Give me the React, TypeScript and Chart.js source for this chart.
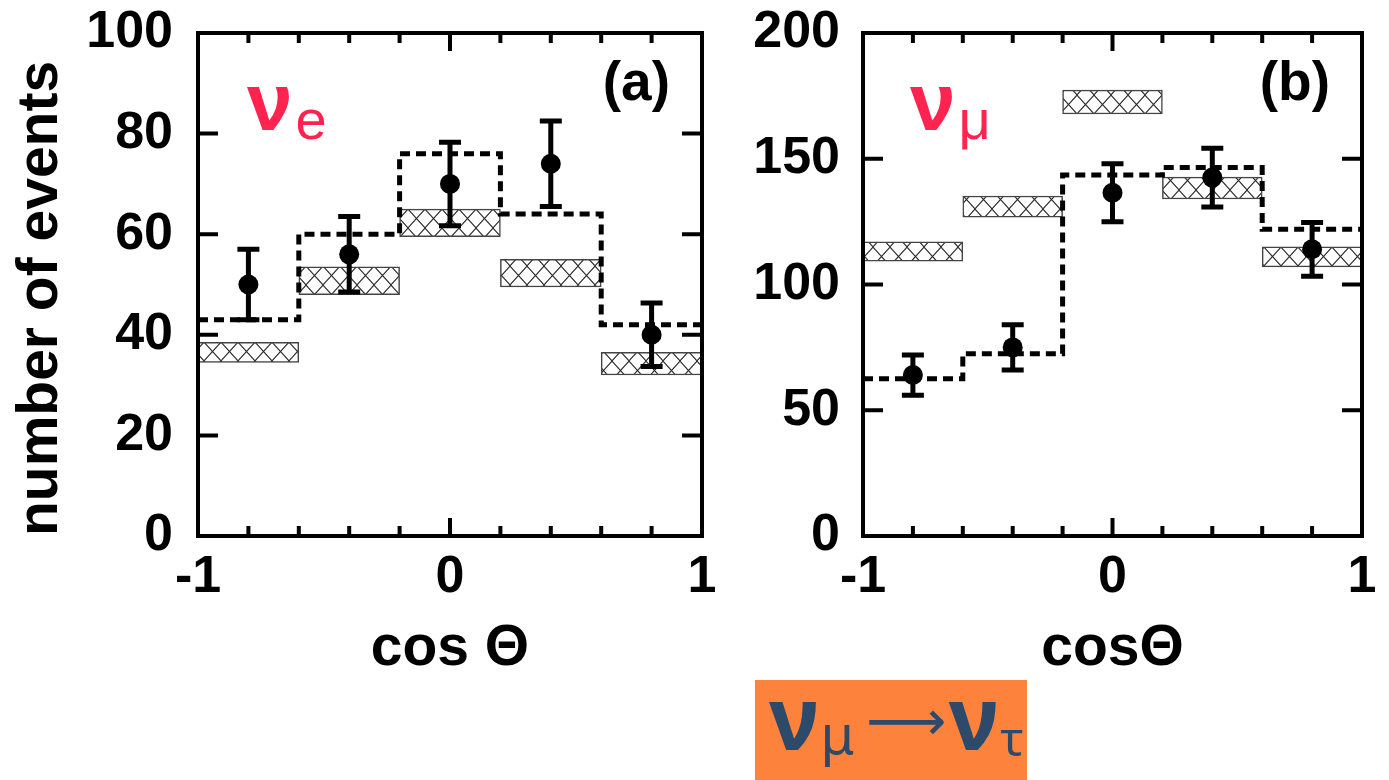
import React, { useEffect, useRef } from "react";
import { Chart, registerables } from "chart.js";

Chart.register(...registerables);

// ---------- data ----------
const binEdges = [-1, -0.6, -0.2, 0.2, 0.6, 1];
const binCenters = [-0.8, -0.4, 0, 0.4, 0.8];

// panel (a)  nu_e
const aObserved = [50, 56, 70, 74, 40];
const aError = [7, 7.5, 8.3, 8.5, 6.3];
const aExpected = [43, 60, 76, 64, 42];
const aBandLow = [34.5, 48, 59.5, 49.5, 32];
const aBandHigh = [38.5, 53.5, 65, 55, 36.5];

// panel (b)  nu_mu
const bObserved = [64, 75, 136.5, 142.5, 114];
const bError = [8, 9, 11.5, 11.7, 10.7];
const bExpected = [62.5, 72.5, 143.5, 146.5, 122];
const bBandLow = [109.3, 126.8, 167.8, 134, 107];
const bBandHigh = [117, 135.2, 177.3, 142.7, 115];

const xMin = -1;
const xMax = 1;
const xLabelStep = 1;
const xMinorStep = 0.2;

const FONT = "'Liberation Sans', Arial, Helvetica, sans-serif";
const RED = "#ff2450";

type Spec = {
  observed: number[];
  error: number[];
  expected: number[];
  low: number[];
  high: number[];
  yMax: number;
  yStep: number;
  yTitle: string | null;
  xTitle: string;
  yAxisWidth: number;
  yTickPad: number;
  padRight: number;
  sym: string;
  sub: string;
  tag: string;
  symDx: number;
};

function makeHatch(): CanvasPattern | string {
  const c = document.createElement("canvas");
  const w = 17;
  const h = 19;
  c.width = w;
  c.height = h;
  const g = c.getContext("2d");
  if (!g) return "#fff";
  g.fillStyle = "#fff";
  g.fillRect(0, 0, w, h);
  g.strokeStyle = "#2a2a2a";
  g.lineWidth = 1.1;
  g.beginPath();
  g.moveTo(-1, -1);
  g.lineTo(w + 1, h + 1);
  g.moveTo(w + 1, -1);
  g.lineTo(-1, h + 1);
  g.stroke();
  return g.createPattern(c, "repeat") || "#fff";
}

function zeroPadding(sc: any) {
  sc.paddingLeft = 0;
  sc.paddingRight = 0;
  sc.paddingTop = 0;
  sc.paddingBottom = 0;
}

function buildChart(canvas: HTMLCanvasElement, s: Spec) {
  const hatch = makeHatch();

  const decor = {
    id: "decor",
    afterDatasetsDraw(chart: any) {
      const { ctx } = chart;
      const xs = chart.scales.x;
      const ys = chart.scales.y;
      ctx.save();
      ctx.strokeStyle = "#000";
      ctx.lineWidth = 5;
      ctx.lineCap = "butt";
      binCenters.forEach((c, i) => {
        const x = xs.getPixelForValue(c);
        const yt = ys.getPixelForValue(s.observed[i] + s.error[i]);
        const yb = ys.getPixelForValue(s.observed[i] - s.error[i]);
        ctx.beginPath();
        ctx.moveTo(x, yt);
        ctx.lineTo(x, yb);
        ctx.moveTo(x - 11, yt);
        ctx.lineTo(x + 11, yt);
        ctx.moveTo(x - 11, yb);
        ctx.lineTo(x + 11, yb);
        ctx.stroke();
      });
      ctx.restore();
    },
    afterDraw(chart: any) {
      const { ctx, chartArea: a } = chart;
      const xs = chart.scales.x;
      const ys = chart.scales.y;
      ctx.save();
      ctx.strokeStyle = "#000";
      ctx.lineWidth = 4;
      // inner ticks x
      for (let v = xMin; v <= xMax + 1e-9; v += xMinorStep) {
        const x = xs.getPixelForValue(v);
        const major = Math.abs(v - Math.round(v / xLabelStep) * xLabelStep) < 1e-6;
        const len = major ? 18 : 10;
        ctx.beginPath();
        ctx.moveTo(x, a.bottom);
        ctx.lineTo(x, a.bottom - len);
        ctx.moveTo(x, a.top);
        ctx.lineTo(x, a.top + len);
        ctx.stroke();
      }
      // inner ticks y
      for (let v = 0; v <= s.yMax + 1e-9; v += s.yStep) {
        const y = ys.getPixelForValue(v);
        ctx.beginPath();
        ctx.moveTo(a.left, y);
        ctx.lineTo(a.left + 20, y);
        ctx.moveTo(a.right, y);
        ctx.lineTo(a.right - 20, y);
        ctx.stroke();
      }
      // frame
      ctx.strokeRect(a.left, a.top, a.right - a.left, a.bottom - a.top);

      // particle label
      ctx.fillStyle = RED;
      ctx.textBaseline = "alphabetic";
      ctx.textAlign = "left";
      ctx.font = `bold 82px ${FONT}`;
      const sx = a.left + s.symDx;
      ctx.fillText(s.sym, sx, a.top + 97);
      const w = ctx.measureText(s.sym).width;
      ctx.font = `56px ${FONT}`;
      ctx.fillText(s.sub, sx + w + 3, a.top + 106);

      // panel tag
      ctx.fillStyle = "#000";
      ctx.textAlign = "right";
      ctx.textBaseline = "middle";
      ctx.font = `bold 55px ${FONT}`;
      ctx.fillText(s.tag, a.right - 32, a.top + 52);
      ctx.restore();
    },
  };

  const tickFont = { family: FONT, size: 52, weight: "bold" as const, lineHeight: 1 };
  const titleFont = { family: FONT, size: 57, weight: "bold" as const, lineHeight: 1 };

  return new Chart(canvas, {
    type: "line",
    data: {
      datasets: [
        {
          type: "line",
          label: "observed",
          data: binCenters.map((x, i) => ({ x, y: s.observed[i] })),
          showLine: false,
          pointRadius: 10,
          pointBackgroundColor: "#000",
          pointBorderWidth: 0,
          order: 0,
        },
        {
          type: "line",
          label: "expected",
          data: binEdges.map((x, i) => ({ x, y: s.expected[Math.min(i, s.expected.length - 1)] })),
          stepped: "before",
          borderColor: "#000",
          borderWidth: 5,
          borderDash: [10, 6],
          borderCapStyle: "butt",
          pointRadius: 0,
          fill: false,
          order: 1,
        },
        {
          type: "bar",
          label: "band",
          data: binCenters.map((x, i) => ({ x, y: [s.low[i], s.high[i]] })),
          backgroundColor: hatch as any,
          borderColor: "#444",
          borderWidth: 1.5,
          borderSkipped: false,
          categoryPercentage: 1,
          barPercentage: 1,
          order: 2,
        },
      ] as any,
    },
    options: {
      responsive: false,
      animation: false,
      events: [],
      layout: { padding: { top: 33, right: s.padRight, left: 0, bottom: 0 } },
      plugins: { legend: { display: false }, tooltip: { enabled: false } },
      scales: {
        x: {
          type: "linear",
          min: xMin,
          max: xMax,
          offset: false,
          grid: { display: false, drawTicks: false },
          border: { display: false },
          ticks: {
            stepSize: xLabelStep,
            color: "#000",
            font: tickFont,
            padding: 16,
            maxRotation: 0,
            autoSkip: false,
          },
          title: {
            display: true,
            text: s.xTitle,
            color: "#000",
            font: titleFont,
            padding: { top: 0, bottom: 22 },
          },
          afterFit: (sc: any) => {
            sc.height = 164;
            zeroPadding(sc);
          },
        },
        y: {
          type: "linear",
          min: 0,
          max: s.yMax,
          grid: { display: false, drawTicks: false },
          border: { display: false },
          ticks: {
            stepSize: s.yStep,
            color: "#000",
            font: tickFont,
            padding: s.yTickPad,
          },
          title: {
            display: !!s.yTitle,
            text: s.yTitle || "",
            align: "start",
            color: "#000",
            font: titleFont,
            padding: { top: 13, bottom: 0 },
          },
          afterFit: (sc: any) => {
            sc.width = s.yAxisWidth;
            zeroPadding(sc);
          },
        },
      },
    } as any,
    plugins: [decor],
  } as any);
}

const specA: Spec = {
  observed: aObserved,
  error: aError,
  expected: aExpected,
  low: aBandLow,
  high: aBandHigh,
  yMax: 100,
  yStep: 20,
  yTitle: "number of events",
  xTitle: "cos Θ",
  yAxisWidth: 198,
  yTickPad: 25,
  padRight: 18,
  sym: "ν",
  sub: "e",
  tag: "(a)",
  symDx: 49,
};

const specB: Spec = {
  observed: bObserved,
  error: bError,
  expected: bExpected,
  low: bBandLow,
  high: bBandHigh,
  yMax: 200,
  yStep: 50,
  yTitle: null,
  xTitle: "cosΘ",
  yAxisWidth: 143,
  yTickPad: 23,
  padRight: 27,
  sym: "ν",
  sub: "μ",
  tag: "(b)",
  symDx: 47,
};

function Panel({ spec, left, width }: { spec: Spec; left: number; width: number }) {
  const ref = useRef<HTMLCanvasElement | null>(null);
  useEffect(() => {
    if (!ref.current) return;
    const chart = buildChart(ref.current, spec);
    return () => chart.destroy();
  }, [spec]);
  return (
    <canvas
      ref={ref}
      width={width}
      height={700}
      style={{ position: "absolute", left, top: 0, width, height: 700 }}
    />
  );
}

export default function App() {
  return (
    <div
      style={{
        position: "fixed",
        left: 0,
        top: 0,
        width: 1389,
        height: 780,
        background: "#fff",
        overflow: "hidden",
      }}
    >
      <Panel spec={specA} left={0} width={720} />
      <Panel spec={specB} left={720} width={669} />
      <div
        style={{
          position: "absolute",
          left: 755,
          top: 680,
          width: 272,
          height: 100,
          background: "#fd833d",
        }}
      >
        <div
          style={{
            position: "absolute",
            left: 14,
            top: -8,
            display: "flex",
            alignItems: "baseline",
            color: "#2d4a6b",
            fontFamily: "'Noto Sans', sans-serif",
            whiteSpace: "nowrap",
            lineHeight: 1,
          }}
        >
          <span style={{ fontSize: 88, fontWeight: 700 }}>ν</span>
          <span style={{ fontSize: 54, position: "relative", top: 4, marginLeft: 2 }}>μ</span>
          <span
            style={{
              fontSize: 56,
              fontFamily: "'DejaVu Sans', sans-serif",
              position: "relative",
              top: -10,
              marginLeft: 12,
            }}
          >
            ⟶
          </span>
          <span style={{ fontSize: 88, fontWeight: 700, marginLeft: 2 }}>ν</span>
          <span style={{ fontSize: 48, position: "relative", top: 6, marginLeft: 2 }}>τ</span>
        </div>
      </div>
    </div>
  );
}
